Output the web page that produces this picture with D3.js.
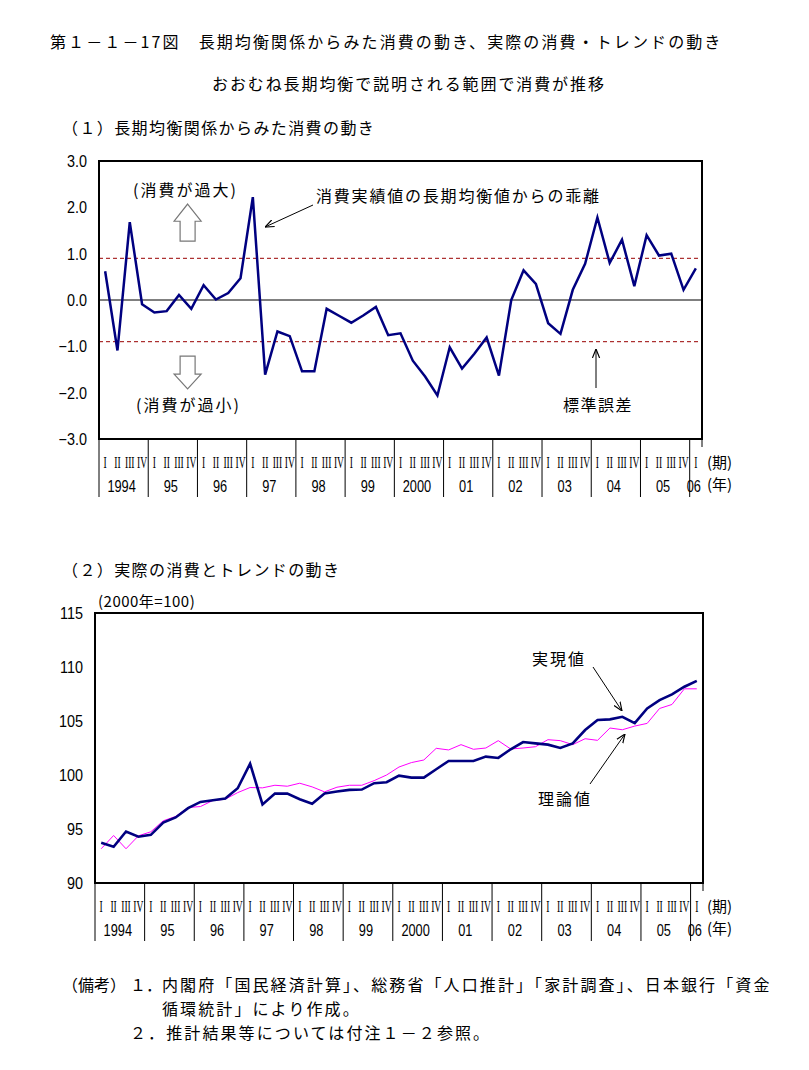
<!DOCTYPE html>
<html><head><meta charset="utf-8">
<script src="https://cdn.jsdelivr.net/npm/d3@7/dist/d3.min.js"></script>
<style>
body{margin:0;background:#fff;}
svg text{font-family:"Noto Sans CJK JP",sans-serif;}
</style></head>
<body><svg id="c" width="809" height="1070"></svg>
<script>
// ---- data ----
const quarterLabels = ["I","II","III","IV"];
const yearLabels = ["1994","95","96","97","98","99","2000","01","02","03","04","05","06"];
const gap = [0.62,-1.09,1.68,-0.09, -0.27,-0.24,0.11,-0.19, 0.32,0.01,0.15,0.47,
  2.22,-1.61,-0.68,-0.78, -1.54,-1.54,-0.19,-0.34, -0.49,-0.33,-0.15,-0.76,
  -0.72,-1.31,-1.65,-2.06, -1.02,-1.48,-1.16,-0.81, -1.63,0.00,0.64,0.35,
  -0.50,-0.73,0.22,0.78, 1.78,0.80,1.30,0.30, 1.40,0.96,1.00,0.22, 0.68];
const actual = [93.73,93.36,94.77,94.28, 94.46,95.6,96.07,96.93, 97.51,97.67,97.82,98.77,
  101.05,97.27,98.28,98.28, 97.76,97.33,98.28,98.47, 98.62,98.65,99.24,99.33,
  99.94,99.76,99.76,100.53, 101.3,101.3,101.3,101.7, 101.58,102.38,103.05,102.93,
  102.81,102.5,102.93,104.16, 105.09,105.15,105.39,104.81, 106.16,106.93,107.46,108.17, 108.72];
const theory = [93.17,94.4,93.17,94.37, 94.74,95.76,96.16,96.99, 97.08,97.64,97.76,98.37,
  98.84,98.81,99.05,98.96, 99.24,98.9,98.44,98.87, 99.05,99.05,99.48,100.0,
  100.74,101.15,101.39,102.47, 102.32,102.81,102.38,102.5, 103.18,102.41,102.5,102.62,
  103.27,103.18,102.81,103.36, 103.21,104.35,104.19,104.53, 104.78,106.16,106.53,107.98, 107.98];
const topTicks = [3,2,1,0,-1,-2,-3];
const bottomTicks = [115,110,105,100,95,90];
const stdErr = 0.9;

const svg = d3.select("#c");
const idx = d3.range(gap.length);

function cjk(t, x, y, opts={}){
  return svg.append("text").attr("x",x).attr("y",y)
    .attr("font-size",opts.size||16).attr("letter-spacing",opts.ls==null?2:opts.ls)
    .attr("text-anchor",opts.anchor||"start").attr("fill","#000").text(t);
}

// titles
cjk("第１－１－17図　長期均衡関係からみた消費の動き、実際の消費・トレンドの動き",50,48,{ls:2.1});
cjk("おおむね長期均衡で説明される範囲で消費が推移",212,90,{ls:1.9});
cjk("（１）長期均衡関係からみた消費の動き",62,134,{ls:1.4});
cjk("（２）実際の消費とトレンドの動き",62,576,{ls:1.4});

function xAxisBlock(x, y0, bw){
  const g = svg.append("g");
  const bounds = d3.range(0, gap.length, 4);
  g.selectAll("line.sep").data(bounds).join("line")
    .attr("x1",d=>x(d)).attr("x2",d=>x(d)).attr("y1",y0).attr("y2",y0+58)
    .attr("stroke","#000").attr("stroke-width",1);
  const xe = x.range()[1];
  g.append("line").attr("x1",xe).attr("x2",xe).attr("y1",y0).attr("y2",y0+8).attr("stroke","#000");
  g.selectAll("g.q").data(idx).join("g")
    .attr("transform",d=>`translate(${x(d)+bw/2},${y0+29}) scale(0.6,1)`)
    .append("text").attr("x",0).attr("y",0)
    .attr("text-anchor","middle")
    .style("font-family","'Liberation Serif',serif").attr("font-size",16)
    .text(d=>quarterLabels[d%4]);
  g.selectAll("g.yl").data(yearLabels).join("g")
    .attr("transform",(d,i)=>{const s=x(i*4); const e=(i*4+4<=gap.length)?x(i*4+4):xe; return `translate(${(s+e)/2-2},${y0+53}) scale(0.8,1)`;})
    .append("text").attr("x",0).attr("y",0).attr("text-anchor","middle")
    .style("font-family","'Liberation Sans',sans-serif").attr("font-size",16)
    .text(d=>d);
  cjk("(期)",707,y0+29,{ls:0,size:15});
  cjk("(年)",707,y0+51,{ls:0,size:15});
}

function yLabels(y, ticks, xr, fmt){
  svg.append("g").selectAll("g").data(ticks).join("g")
    .attr("transform",d=>`translate(${xr},${y(d)+6}) scale(0.9,1)`)
    .append("text").attr("x",0).attr("y",0).attr("text-anchor","end")
    .style("font-family","'Liberation Sans',sans-serif").attr("font-size",16)
    .text(d=>fmt(d));
}

// ---- top chart ----
const xT = d3.scaleBand().domain(idx).range([99,702]).padding(0);
const yT = d3.scaleLinear().domain([-3,3]).range([439,161]);
const bwT = xT.bandwidth();
const cxT = i => xT(i)+bwT/2;

[stdErr,-stdErr].forEach(v=>{
  svg.append("line").attr("x1",99).attr("x2",702).attr("y1",yT(v)).attr("y2",yT(v))
    .attr("stroke","#990000").attr("stroke-width",1).attr("stroke-dasharray","4,3");
});
svg.append("line").attr("x1",99).attr("x2",702).attr("y1",yT(0)).attr("y2",yT(0))
  .attr("stroke","#000").attr("stroke-width",1);
svg.append("path").datum(gap)
  .attr("d",d3.line().x((d,i)=>cxT(i)).y(d=>yT(d)))
  .attr("fill","none").attr("stroke","#000080").attr("stroke-width",2.5).attr("stroke-linejoin","miter");
svg.append("rect").attr("x",99).attr("y",161).attr("width",603).attr("height",278)
  .attr("fill","none").attr("stroke","#000").attr("stroke-width",2);
yLabels(yT, topTicks, 87, d3.format(".1f"));
xAxisBlock(xT, 439, bwT);

const defs = svg.append("defs");
defs.append("marker").attr("id","ah").attr("viewBox","0 0 10 10").attr("refX",10).attr("refY",5)
  .attr("markerWidth",9).attr("markerHeight",9).attr("orient","auto-start-reverse")
  .append("path").attr("d","M0,1 L10,5 L0,9").attr("fill","none").attr("stroke","#000").attr("stroke-width",1.3);

function blockArrow(qc, vTip, vHead, vEnd){
  const xc = xT.range()[0] + qc*bwT, hw = 13.5, sw = 7.5;
  const yt=yT(vTip), yh=yT(vHead), ye=yT(vEnd);
  const pts = [[xc,yt],[xc+hw,yh],[xc+sw,yh],[xc+sw,ye],[xc-sw,ye],[xc-sw,yh],[xc-hw,yh]];
  svg.append("polygon").attr("points",pts.map(p=>p.join(",")).join(" "))
    .attr("fill","#fff").attr("stroke","#777").attr("stroke-width",1.2);
}
blockArrow(7.2, 2.07, 1.70, 1.27);
blockArrow(7.2, -1.92, -1.60, -1.21);
cjk("(消費が過大)",133,196,{ls:2});
cjk("(消費が過小)",136,411,{ls:2});
cjk("消費実績値の長期均衡値からの乖離",316,202,{ls:1.8});
svg.append("line").attr("x1",313).attr("y1",205).attr("x2",265).attr("y2",227)
  .attr("stroke","#000").attr("stroke-width",1).attr("marker-end","url(#ah)");
cjk("標準誤差",563,411,{ls:1.5});
svg.append("line").attr("x1",596).attr("y1",388).attr("x2",596).attr("y2",349)
  .attr("stroke","#000").attr("stroke-width",1).attr("marker-end","url(#ah)");

// ---- bottom chart ----
const xB = d3.scaleBand().domain(idx).range([95,703]).padding(0);
const yB = d3.scaleLinear().domain([90,115]).range([883,613]);
const bwB = xB.bandwidth();
const cxB = i => xB(i)+bwB/2;
svg.append("path").datum(theory)
  .attr("d",d3.line().x((d,i)=>cxB(i)).y(d=>yB(d)))
  .attr("fill","none").attr("stroke","#ff00ff").attr("stroke-width",1);
svg.append("path").datum(actual)
  .attr("d",d3.line().x((d,i)=>cxB(i)).y(d=>yB(d)))
  .attr("fill","none").attr("stroke","#000080").attr("stroke-width",2.6);
svg.append("rect").attr("x",95).attr("y",613).attr("width",608).attr("height",270)
  .attr("fill","none").attr("stroke","#000").attr("stroke-width",2);
yLabels(yB, bottomTicks, 83, d3.format("d"));
xAxisBlock(xB, 883, bwB);
cjk("(2000年=100)",98,607,{ls:0.5,size:15});
cjk("実現値",532,665,{ls:2});
svg.append("line").attr("x1",593).attr("y1",667).attr("x2",622).attr("y2",711)
  .attr("stroke","#000").attr("stroke-width",1).attr("marker-end","url(#ah)");
cjk("理論値",538,805,{ls:2});
svg.append("line").attr("x1",590).attr("y1",784).attr("x2",625).attr("y2",734)
  .attr("stroke","#000").attr("stroke-width",1).attr("marker-end","url(#ah)");

// notes
cjk("（備考）",62,991,{ls:0});
cjk("１．",130,991,{ls:0});
cjk("内閣府「国民経済計算」、総務省「人口推計」「家計調査」、日本銀行「資金",162,991,{ls:2.1});
cjk("循環統計」により作成。",162,1015,{ls:2.1});
cjk("２．推計結果等については付注１－２参照。",130,1039,{ls:2.1});
</script></body></html>
